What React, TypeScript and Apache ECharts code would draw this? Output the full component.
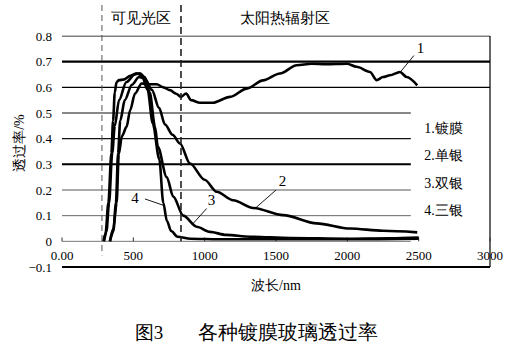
import React, { useEffect, useRef } from 'react';
import * as echarts from 'echarts';

// Axis ticks
const xTicks = [0, 500, 1000, 1500, 2000, 2500, 3000];
const yTicks = [-0.1, 0, 0.1, 0.2, 0.3, 0.4, 0.5, 0.6, 0.7, 0.8];

// Curve 1 镀膜
const c1Nm = [336, 360, 383, 398, 420, 453, 477, 512, 558, 610, 664, 710, 757, 800, 834, 870, 905, 967, 1058, 1178, 1295, 1409, 1528, 1645, 1750, 1850, 1998, 2065, 2159, 2206, 2250, 2299, 2369, 2416, 2490];
const c1T = [0, 0.05, 0.15, 0.34, 0.41, 0.446, 0.51, 0.576, 0.615, 0.612, 0.612, 0.6, 0.589, 0.575, 0.563, 0.576, 0.55, 0.54, 0.54, 0.563, 0.595, 0.627, 0.654, 0.686, 0.692, 0.69, 0.692, 0.68, 0.66, 0.628, 0.64, 0.647, 0.66, 0.64, 0.608];
// Curve 2 单银
const c2Nm = [336, 360, 378, 393, 408, 440, 490, 540, 580, 630, 680, 722, 775, 827, 897, 1000, 1084, 1200, 1340, 1550, 1785, 2019, 2250, 2490];
const c2T = [0, 0.04, 0.15, 0.343, 0.47, 0.55, 0.61, 0.64, 0.635, 0.59, 0.52, 0.455, 0.415, 0.381, 0.303, 0.24, 0.193, 0.16, 0.13, 0.102, 0.07, 0.05, 0.041, 0.035];
// Curve 3 双银
const c3Nm = [295, 312, 330, 352, 370, 400, 450, 510, 545, 580, 615, 652, 672, 734, 780, 850, 944, 1037, 1150, 1318, 1600, 2000, 2300, 2500];
const c3T = [0, 0.04, 0.15, 0.343, 0.45, 0.55, 0.62, 0.65, 0.655, 0.64, 0.58, 0.446, 0.368, 0.25, 0.174, 0.1, 0.057, 0.037, 0.025, 0.018, 0.013, 0.01, 0.012, 0.015];
// Curve 4 三银
const c4Nm = [290, 305, 325, 346, 358, 370, 382, 400, 430, 480, 525, 560, 600, 636, 682, 710, 735, 765, 810, 900, 1100, 1500, 2000, 2500];
const c4T = [0, 0.03, 0.15, 0.343, 0.47, 0.58, 0.62, 0.628, 0.63, 0.645, 0.655, 0.645, 0.59, 0.46, 0.32, 0.15, 0.08, 0.04, 0.018, 0.01, 0.008, 0.008, 0.008, 0.01];

const legendNames = ['1.镀膜', '2.单银', '3.双银', '4.三银'];
const curveTags = ['1', '2', '3', '4'];
const regionNames = ['可见光区', '太阳热辐射区'];
const regionBounds = [280, 834];
const xName = '波长/nm';
const yName = '透过率/%';
const figNo = '图3';
const figTitle = '各种镀膜玻璃透过率';

// gridline levels (value) and where they end (nm)
const gridLevels = [0.8, 0.7, 0.6, 0.5, 0.4, 0.3, 0.2, 0.1, 0, -0.1];
const gridEnds = [3000, 3000, 3000, 2445, 2445, 2445, 2445, 2445, 2445, 3000];

// leader lines for curve tags: [from nm, from T], [to nm, to T]
const leaderFrom = [[2369, 0.658], [1353, 0.128], [920, 0.07], [708, 0.141]];
const leaderTo = [[2467, 0.724], [1500, 0.2], [1014, 0.128], [582, 0.165]];
const tagPos = [[2512, 0.752], [1545, 0.235], [1048, 0.162], [512, 0.168]];
const legendPos = [[2540, 0.441], [2540, 0.336], [2540, 0.227], [2540, 0.122]];

const FONT = 'serif';
const FONT2 = 'Liberation Serif';

const gridWidths = [1, 2.4, 1.3, 1.2, 1.2, 2, 1, 1, 1, 2];
const gridColors = ['#000', '#000', '#000', '#111', '#111', '#000', '#555', '#666', '#777', '#000'];

export default function App() {
  const ref = useRef<HTMLDivElement>(null);
  useEffect(() => {
    const chart = echarts.init(ref.current!, null, { renderer: 'svg' });
    const curves = [
      [c1Nm, c1T],
      [c2Nm, c2T],
      [c3Nm, c3T],
      [c4Nm, c4T],
    ];
    const series: any[] = [];
    gridLevels.forEach((lv, i) => {
      series.push({
        type: 'line',
        data: [[0, lv], [gridEnds[i], lv]],
        symbol: 'none',
        silent: true,
        z: 1,
        lineStyle: { color: gridColors[i], width: gridWidths[i] },
      });
    });
    series.push({
      type: 'line',
      data: [[3000, -0.1], [3000, 0.8]],
      symbol: 'none',
      silent: true,
      z: 1,
      lineStyle: { color: '#000', width: 1.2 },
    });
    xTicks.forEach((x) => {
      series.push({
        type: 'line',
        data: [[x, 0], [x, 0.015]],
        symbol: 'none',
        silent: true,
        z: 1,
        lineStyle: { color: '#333', width: 1 },
      });
    });
    curves.forEach(([nm, t]) => {
      series.push({
        type: 'line',
        data: nm.map((x, i) => [x, t[i]]),
        symbol: 'none',
        smooth: 0.3,
        smoothMonotone: 'x',
        z: 3,
        lineStyle: { color: '#000', width: 2.6 },
      });
    });
    leaderFrom.forEach((f, i) => {
      series.push({
        type: 'line',
        data: [f, leaderTo[i]],
        symbol: 'none',
        z: 4,
        lineStyle: { color: '#000', width: 0.9 },
      });
    });

    chart.setOption({
      animation: false,
      textStyle: { fontFamily: FONT },
      grid: { left: 62, right: 24, top: 36, bottom: 81 },
      xAxis: {
        type: 'value',
        min: xTicks[0],
        max: xTicks[xTicks.length - 1],
        interval: 500,
        axisLine: { show: false },
        axisTick: { show: false },
        axisLabel: {
          inside: true,
          margin: 5,
          fontSize: 13,
          color: '#000',
          fontFamily: FONT,
          formatter: (v: number) => (v === 0 ? '0.00' : String(v)),
        },
        splitLine: { show: false },
        name: xName,
        nameLocation: 'middle',
        nameGap: 11,
        nameTextStyle: { fontSize: 14, color: '#000', fontFamily: FONT },
      },
      yAxis: {
        type: 'value',
        min: yTicks[0],
        max: yTicks[yTicks.length - 1],
        interval: 0.1,
        axisLine: { show: false },
        axisTick: { show: false },
        splitLine: { show: false },
        axisLabel: {
          margin: 10,
          fontSize: 13,
          color: '#000',
          fontFamily: FONT,
          formatter: (v: number) => {
            const r = Math.round(v * 10) / 10;
            if (r === 0) return '0';
            if (r < 0) return '\u2212' + Math.abs(r).toFixed(1);
            return r.toFixed(1);
          },
        },
      },
      series,
    });

    const px = (x: number, y: number) => chart.convertToPixel({ gridIndex: 0 } as any, [x, y]) as number[];
    const graphic: any[] = [];
    const vx1 = px(regionBounds[0], 0)[0];
    const vx2 = px(regionBounds[1], 0)[0];
    graphic.push({
      type: 'line',
      shape: { x1: vx1, y1: 5, x2: vx1, y2: px(0, -0.055)[1] },
      style: { stroke: '#555', lineWidth: 1, lineDash: [6, 4] },
      z: 10,
    });
    graphic.push({
      type: 'line',
      shape: { x1: vx2, y1: 5, x2: vx2, y2: px(0, 0)[1] },
      style: { stroke: '#222', lineWidth: 1.6, lineDash: [7, 4] },
      z: 10,
    });
    graphic.push({
      type: 'text',
      x: (vx1 + vx2) / 2,
      y: 18,
      style: { text: regionNames[0], fontSize: 15, fontFamily: FONT2, fill: '#000', align: 'center', verticalAlign: 'middle' },
    });
    graphic.push({
      type: 'text',
      x: px(1563, 0)[0],
      y: 18,
      style: { text: regionNames[1], fontSize: 15, fontFamily: FONT2, fill: '#000', align: 'center', verticalAlign: 'middle' },
    });
    legendNames.forEach((n, i) => {
      const p = px(legendPos[i][0], legendPos[i][1]);
      graphic.push({
        type: 'text',
        x: p[0],
        y: p[1],
        style: { text: n, fontSize: 14, fontFamily: FONT2, fill: '#000', align: 'left', verticalAlign: 'middle' },
      });
    });
    curveTags.forEach((n, i) => {
      const p = px(tagPos[i][0], tagPos[i][1]);
      graphic.push({
        type: 'text',
        x: p[0],
        y: p[1],
        style: { text: n, fontSize: 15, fontFamily: FONT2, fill: '#000', align: 'center', verticalAlign: 'middle' },
      });
    });
    graphic.push({
      type: 'text',
      x: 19,
      y: 143,
      rotation: Math.PI / 2,
      style: { text: yName, fontSize: 14, fontFamily: FONT2, fill: '#000', align: 'center', verticalAlign: 'middle' },
    });
    graphic.push({
      type: 'text',
      x: 149,
      y: 332,
      style: { text: figNo, fontSize: 19, fontFamily: FONT2, fill: '#000', align: 'center', verticalAlign: 'middle' },
    });
    graphic.push({
      type: 'text',
      x: 288,
      y: 332,
      style: { text: figTitle, fontSize: 20, fontFamily: FONT2, fill: '#000', align: 'center', verticalAlign: 'middle' },
    });
    chart.setOption({ graphic });

    return () => chart.dispose();
  }, []);
  return <div ref={ref} style={{ position: 'absolute', left: 0, top: 0, width: 514, height: 348 }} />;
}
